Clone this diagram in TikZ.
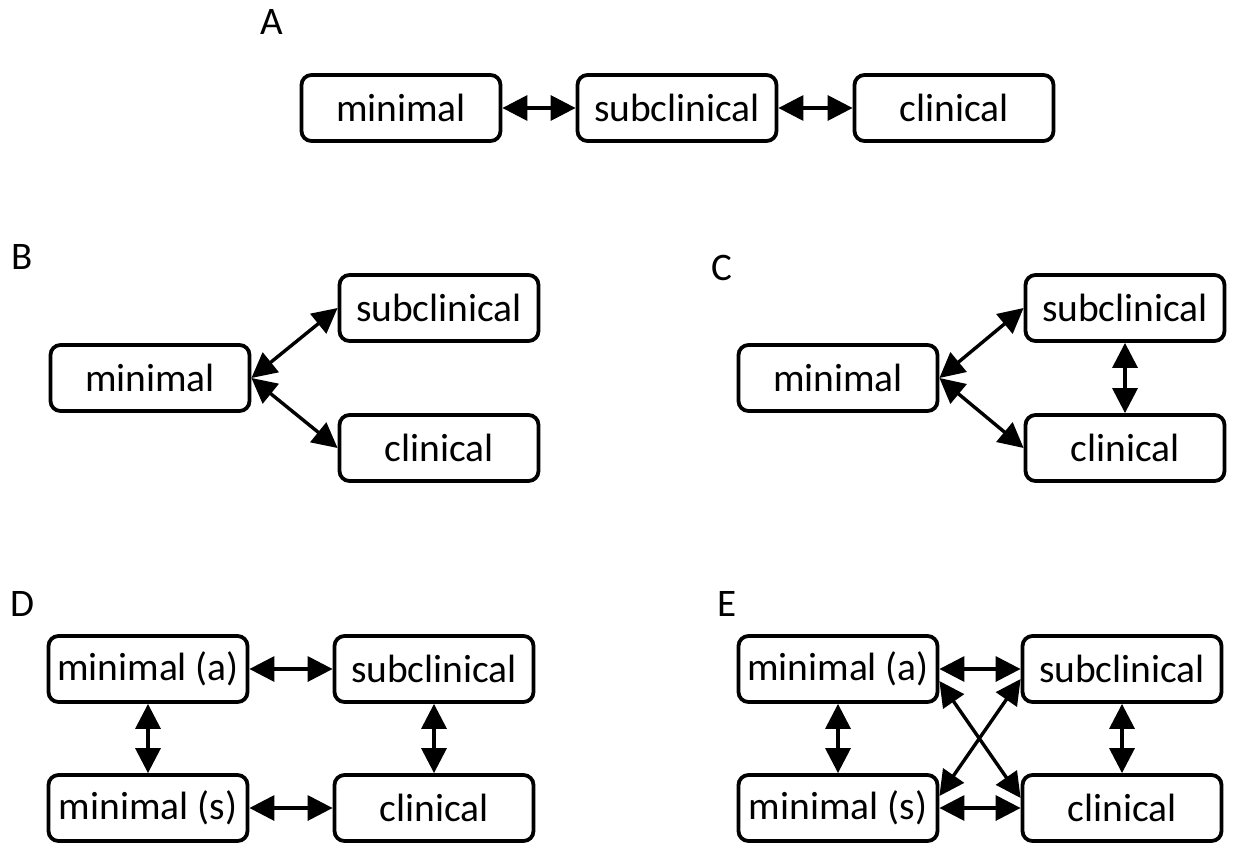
\documentclass[tikz,border=0pt]{standalone}
\usepackage{fontspec}
\setmainfont{Carlito}
\usetikzlibrary{arrows.meta}
\begin{document}
\begin{tikzpicture}[x=1pt,y=-1pt,
  box/.style={draw, rounded corners=10pt, line width=3.8pt, minimum width=199pt,
    minimum height=66pt, inner sep=0pt, font=\fontsize{39.5}{42}\selectfont},
  tag/.style={font=\fontsize{39}{42}\selectfont, inner sep=0pt},
  link/.style={line width=3.4pt, {Triangle[length=25pt,width=25pt]}-{Triangle[length=25pt,width=25pt]}}]
\useasboundingbox (0,0) rectangle (1234,843);

% Panel A: chain
\node[tag] (la) at (272,22) {A};
\node[box] (am) at (401,108) {minimal};
\node[box] (as) at (677,108) {subclinical};
\node[box] (ac) at (954,108) {clinical};
\draw[link] (am) -- (as);
\draw[link] (as) -- (ac);

% Panel B: star from minimal
\node[tag] (lb) at (22,257) {B};
\node[box] (bm) at (150,378) {minimal};
\node[box] (bs) at (439,308) {subclinical};
\node[box] (bc) at (439,448) {clinical};
\draw[link] (bm.east) -- (bs.west);
\draw[link] (bm.east) -- (bc.west);

% Panel C: star plus subclinical--clinical
\node[tag] (lc) at (722,268) {C};
\node[box] (cm) at (838,378) {minimal};
\node[box] (cs) at (1125,308) {subclinical};
\node[box] (cc) at (1125,448) {clinical};
\draw[link] (cm.east) -- (cs.west);
\draw[link] (cm.east) -- (cc.west);
\draw[link] (cs) -- (cc);

% Panel D: square
\node[tag] (ld) at (22,604) {D};
\node[box] (dma) at (148,669) {minimal (a)};
\node[box] (dsc) at (434,669) {subclinical};
\node[box] (dms) at (148,808) {minimal (s)};
\node[box] (dcl) at (434,808) {clinical};
\draw[link] (dma) -- (dsc);
\draw[link] (dms) -- (dcl);
\draw[link] (dma) -- (dms);
\draw[link] (dsc) -- (dcl);

% Panel E: square with diagonals
\node[tag] (le) at (727,604) {E};
\node[box] (ema) at (838,669) {minimal (a)};
\node[box] (esc) at (1122,669) {subclinical};
\node[box] (ems) at (838,808) {minimal (s)};
\node[box] (ecl) at (1122,808) {clinical};
\draw[link] (ema) -- (esc);
\draw[link] (ems) -- (ecl);
\draw[link] (ema) -- (ems);
\draw[link] (esc) -- (ecl);
\draw[link] ([yshift=-12pt]ema.east) -- ([yshift=10pt]ecl.west);
\draw[link] ([yshift=12pt]ems.east) -- ([yshift=-10pt]esc.west);
\end{tikzpicture}
\end{document}
